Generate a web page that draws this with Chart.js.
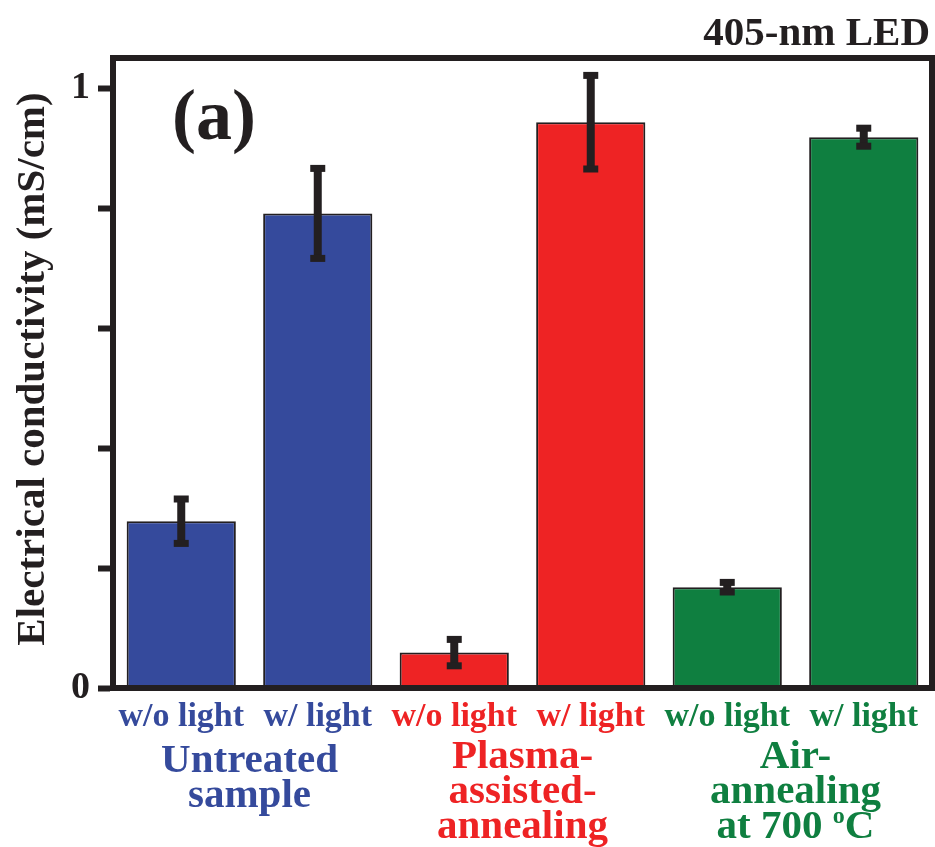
<!DOCTYPE html>
<html>
<head>
<meta charset="utf-8">
<script src="https://cdn.jsdelivr.net/npm/chart.js@4"></script>
<style>
  html, body { margin: 0; padding: 0; background: #fff; }
  canvas { display: block; }
</style>
</head>
<body>
<canvas id="chart" width="935" height="847"></canvas>
<script>
const categories = ['w/o light', 'w/ light', 'w/o light', 'w/ light', 'w/o light', 'w/ light'];
const conductivity = [0.278, 0.791, 0.059, 0.943, 0.168, 0.918];
const errors = [0.037, 0.075, 0.022, 0.078, 0.008, 0.015];
const barColors = ['#354a9c', '#354a9c', '#ee2324', '#ee2324', '#0f7f40', '#0f7f40'];
const groupNames = [
    ['Untreated', 'sample'],
    ['Plasma-', 'assisted-', 'annealing'],
    ['Air-', 'annealing', 'at 700 ^oC'],
];
const groupColors = ['#354a9c', '#ee2324', '#0f7f40'];
const yTicks = [0, 0.2, 0.4, 0.6, 0.8, 1];

const ink = '#231f20';
const serif = "'Liberation Serif', 'Times New Roman', serif";

// error bars, frame and the extra texts
const extras = {
    id: 'extras',
    afterDatasetsDraw(chart) {
        const ctx = chart.ctx;
        const y = chart.scales.y;
        const meta = chart.getDatasetMeta(0);
        ctx.save();
        ctx.fillStyle = ink;
        meta.data.forEach((bar, i) => {
            const top = y.getPixelForValue(conductivity[i] + errors[i]);
            const bot = y.getPixelForValue(conductivity[i] - errors[i]);
            ctx.fillRect(bar.x - 4, top, 8, bot - top);
            ctx.fillRect(bar.x - 7.5, top - 3.5, 15, 7);
            ctx.fillRect(bar.x - 7.5, bot - 3.5, 15, 7);
        });
        const a = chart.chartArea;
        ctx.strokeStyle = ink;
        ctx.lineWidth = 6;
        ctx.strokeRect(a.left, a.top, a.right - a.left, a.bottom - a.top);
        ctx.restore();
    },
    afterDraw(chart) {
        const ctx = chart.ctx;
        const x = chart.scales.x;
        const big = 'bold 41px ' + serif;
        const small = 'bold 24px ' + serif;
        ctx.save();
        ctx.textBaseline = 'alphabetic';
        groupNames.forEach((lines, g) => {
            const cx = (x.getPixelForValue(g * 2) + x.getPixelForValue(g * 2 + 1)) / 2;
            ctx.fillStyle = groupColors[g];
            const first = lines.length === 2 ? 772 : 768;
            lines.forEach((line, k) => {
                const by = first + k * 35;
                if (line.includes('^')) {
                    const [pre, rest] = line.split('^');
                    const sup = rest[0], post = rest.slice(1);
                    ctx.font = big;
                    const w1 = ctx.measureText(pre).width;
                    const w3 = ctx.measureText(post).width;
                    ctx.font = small;
                    const w2 = ctx.measureText(sup).width;
                    const sx = cx - (w1 + w2 + w3) / 2;
                    ctx.textAlign = 'left';
                    ctx.font = big;
                    ctx.fillText(pre, sx, by);
                    ctx.font = small;
                    ctx.fillText(sup, sx + w1, by - 15);
                    ctx.font = big;
                    ctx.fillText(post, sx + w1 + w2, by);
                } else {
                    ctx.textAlign = 'center';
                    ctx.font = big;
                    ctx.fillText(line, cx, by);
                }
            });
        });
        ctx.fillStyle = ink;
        ctx.textAlign = 'left';
        ctx.font = 'bold 72px ' + serif;
        ctx.fillText('(a)', 172, 139);
        ctx.textAlign = 'right';
        ctx.font = 'bold 41px ' + serif;
        ctx.fillText('405-nm LED', 930, 45);
        ctx.translate(33, 369);
        ctx.rotate(-Math.PI / 2);
        ctx.textAlign = 'center';
        ctx.textBaseline = 'middle';
        ctx.font = 'bold 41px ' + serif;
        ctx.fillText('Electrical conductivity (mS/cm)', 0, 0);
        ctx.restore();
    }
};

new Chart(document.getElementById('chart'), {
    type: 'bar',
    data: {
        labels: categories,
        datasets: [{
            data: conductivity,
            backgroundColor: barColors,
            borderColor: ink,
            borderWidth: 2,
            barPercentage: 0.8,
            categoryPercentage: 1,
        }],
    },
    options: {
        responsive: false,
        devicePixelRatio: 1,
        animation: false,
        layout: { padding: { top: 58, right: 3, left: 0, bottom: 0 } },
        plugins: {
            legend: { display: false },
            tooltip: { enabled: false },
        },
        scales: {
            x: {
                grid: { display: false },
                border: { display: false },
                ticks: {
                    color: (c) => barColors[c.index],
                    font: { family: serif, size: 34, weight: 'bold' },
                    padding: 1,
                    maxRotation: 0,
                    autoSkip: false,
                },
                afterFit(scale) { scale.height = 159; },
            },
            y: {
                min: 0,
                max: 1.05,
                afterBuildTicks(scale) { scale.ticks = yTicks.map(v => ({ value: v })); },
                grid: {
                    drawOnChartArea: false,
                    drawTicks: true,
                    tickLength: 15,
                    tickWidth: 6,
                    tickColor: ink,
                },
                border: { display: true, width: 6, color: ink },
                ticks: {
                    color: ink,
                    font: { family: serif, size: 38, weight: 'bold' },
                    padding: 8,
                    callback: (v) => (v === 0 ? '0' : v === 1 ? '1' : ''),
                },
                afterFit(scale) { scale.width = 113; },
            },
        },
    },
    plugins: [extras],
});
</script>
</body>
</html>
